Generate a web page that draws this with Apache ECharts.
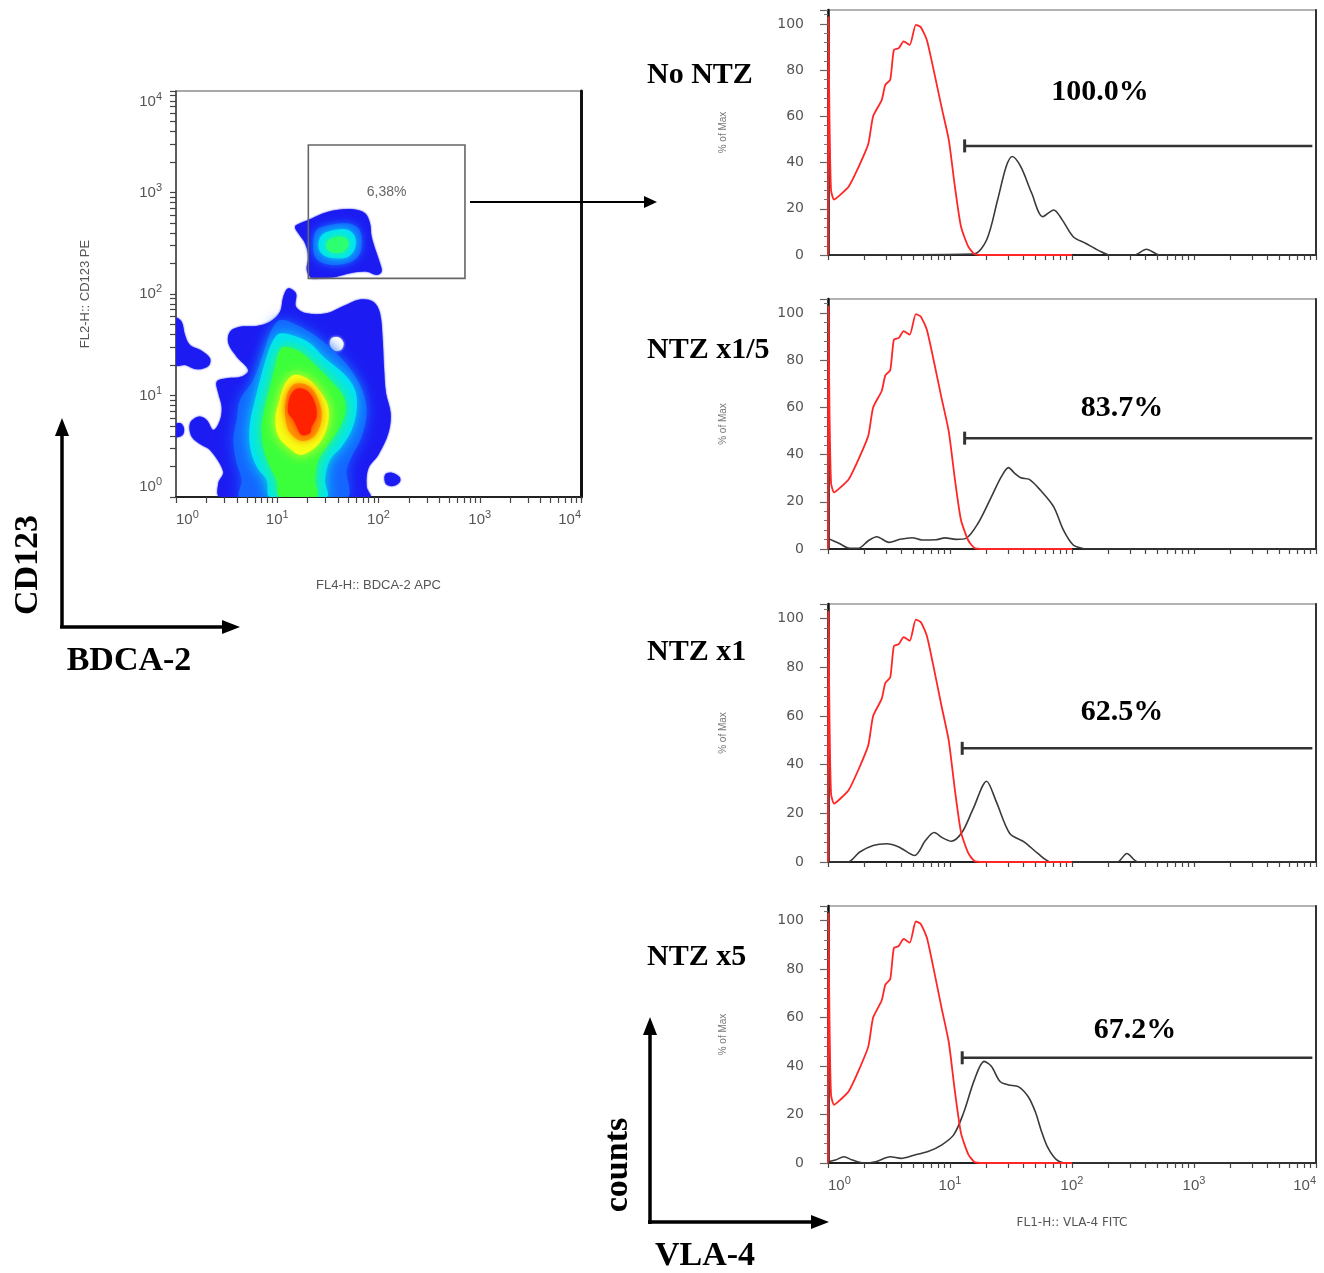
<!DOCTYPE html>
<html><head><meta charset="utf-8">
<script src="https://cdn.jsdelivr.net/npm/echarts@6/dist/echarts.min.js"></script>
<style>html,body{margin:0;padding:0;background:#fff}#c{width:1324px;height:1273px}</style>
</head><body><div id="c"></div>
<script>
// ---------------- DATA (x/y of the dot plot and x of histograms in log10 decades) ----------------
const decadeValues = [0, 1, 2, 3, 4];
const percentTicks = [0, 20, 40, 60, 80, 100];
const panelNames = ['No NTZ', 'NTZ x1/5', 'NTZ x1', 'NTZ x5'];
const gatePercents = ['100.0%', '83.7%', '62.5%', '67.2%'];
const gateStart = [1.12, 1.12, 1.10, 1.10];
const gateEnd = [3.97, 3.97, 3.97, 3.97];
const gateLevel = [47.2, 47.0, 46.7, 43.4];
const dotGateLabel = '6,38%';
const dotGate = [[1.307, 2.154], [2.854, 3.468]];

// isotype control (red), identical in every panel
const isotypeControl = [[0,0],[0.003,103],[0.012,60],[0.025,28],[0.05,24],[0.1,26],[0.17,29.6],[0.25,38],[0.33,48],[0.37,60],[0.44,67],[0.47,73.6],[0.51,75.8],[0.54,88.7],[0.58,89.5],[0.62,92.4],[0.67,90.9],[0.72,99.6],[0.76,98.6],[0.81,93],[0.86,81.5],[0.93,64.2],[0.99,49.8],[1.04,29.6],[1.09,12.3],[1.15,3.6],[1.20,0.4],[1.25,0],[2.0,0]];
// VLA-4 staining (dark grey)
const vla4NoNTZ = [[0,0],[1.19,0.4],[1.30,6.5],[1.39,23.8],[1.46,38.2],[1.51,42.6],[1.58,38.2],[1.67,26.7],[1.76,16.6],[1.85,19.5],[1.92,15.2],[2.01,7.9],[2.11,5.1],[2.22,1.9],[2.31,0],[2.51,0],[2.61,2.5],[2.72,0],[4,0]];
const vla4NTZ1of5 = [[0,4.5],[0.09,2.4],[0.18,0.3],[0.25,0.3],[0.33,3.5],[0.40,5.2],[0.50,2.8],[0.59,4.1],[0.69,4.8],[0.77,3.8],[0.88,3.9],[0.96,4.7],[1.05,4.1],[1.13,4.5],[1.23,10.9],[1.34,22.2],[1.42,30.6],[1.48,34.5],[1.53,32.1],[1.58,30.2],[1.65,29.5],[1.74,25],[1.85,17.9],[1.93,8],[2.01,1.7],[2.08,0.3],[2.12,0],[4,0]];
const vla4NTZ1 = [[0,0],[0.16,0],[0.26,4.1],[0.37,6.8],[0.48,7.5],[0.58,6.2],[0.71,2.7],[0.80,8.9],[0.87,12.1],[0.94,9.9],[1.01,8.5],[1.10,12.3],[1.19,21.9],[1.30,33.2],[1.38,24.7],[1.49,11.7],[1.61,8.2],[1.72,3.5],[1.83,0],[2.37,0],[2.45,3.5],[2.54,0],[4,0]];
const vla4NTZ5 = [[0,0.5],[0.06,1.2],[0.13,2.6],[0.2,1.2],[0.29,0],[0.39,0.5],[0.51,2.6],[0.60,1.9],[0.71,3.3],[0.82,4.7],[0.93,7.4],[1.03,11.6],[1.11,20.5],[1.20,34.3],[1.28,41.9],[1.34,39.8],[1.41,33.6],[1.48,32.2],[1.56,31.5],[1.64,27.4],[1.70,21],[1.75,13],[1.80,6.5],[1.87,1.5],[1.95,0],[4,0]];

// density contour outlines of the BDCA-2 / CD123 dot plot
const mainBlue = [[1.109,2.056],[1.185,2.007],[1.185,1.875],[1.291,1.810],[1.488,1.810],[1.653,1.882],[1.817,1.947],[1.949,1.924],[2.015,1.810],[2.041,1.547],[2.054,1.284],[2.074,1.021],[2.120,0.824],[2.097,0.627],[1.998,0.414],[1.900,0.282],[1.883,0.102],[1.916,0],[0.435,0],[0.418,0.135],[0.467,0.250],[0.336,0.463],[0.253,0.512],[0.155,0.594],[0.138,0.726],[0.221,0.791],[0.303,0.759],[0.369,0.660],[0.435,0.759],[0.451,0.890],[0.418,1.021],[0.402,1.136],[0.500,1.169],[0.649,1.186],[0.714,1.251],[0.599,1.383],[0.517,1.514],[0.533,1.629],[0.632,1.678],[0.797,1.685],[0.928,1.727],[1.027,1.826],[1.060,1.974]];
const mainAzure = [[1.027,1.744],[1.192,1.695],[1.389,1.580],[1.587,1.415],[1.751,1.218],[1.850,1.021],[1.883,0.824],[1.834,0.594],[1.751,0.430],[1.686,0.266],[1.686,0],[0.632,0],[0.649,0.167],[0.599,0.332],[0.566,0.562],[0.599,0.759],[0.632,0.956],[0.764,1.153],[0.863,1.415],[0.928,1.612]];
const mainCyan = [[1.027,1.612],[1.192,1.580],[1.323,1.514],[1.455,1.383],[1.653,1.218],[1.768,1.054],[1.784,0.857],[1.735,0.660],[1.636,0.496],[1.521,0.365],[1.472,0.167],[1.488,0],[0.928,0],[0.895,0.167],[0.797,0.299],[0.731,0.496],[0.731,0.726],[0.780,0.956],[0.830,1.153],[0.895,1.383],[0.961,1.547]];
const mainGreen = [[1.060,1.481],[1.225,1.432],[1.356,1.317],[1.521,1.153],[1.653,0.989],[1.669,0.824],[1.603,0.660],[1.488,0.496],[1.406,0.365],[1.373,0.167],[1.389,0],[1.027,0],[0.994,0.167],[0.928,0.299],[0.863,0.496],[0.846,0.693],[0.879,0.890],[0.928,1.087],[0.978,1.284],[1.011,1.415]];
const mainYellow = [[1.159,1.200],[1.291,1.170],[1.400,1.070],[1.500,0.900],[1.500,0.720],[1.430,0.550],[1.323,0.450],[1.225,0.415],[1.120,0.480],[1.015,0.590],[0.980,0.760],[1.015,0.930],[1.070,1.100]];
const mainOrange = [[1.192,1.120],[1.323,1.087],[1.406,0.956],[1.439,0.791],[1.389,0.627],[1.307,0.562],[1.208,0.562],[1.109,0.660],[1.077,0.824],[1.093,0.989],[1.126,1.071]];
const mainRed = [[1.208,1.071],[1.307,1.038],[1.373,0.923],[1.389,0.791],[1.340,0.693],[1.323,0.627],[1.241,0.611],[1.192,0.693],[1.159,0.759],[1.109,0.824],[1.109,0.923],[1.142,1.021]];
const leftUpperBlob = [[0,1.760],[0.056,1.727],[0.089,1.596],[0.138,1.498],[0.253,1.442],[0.336,1.366],[0.320,1.291],[0.204,1.258],[0.089,1.300],[0,1.300]];
const leftSmallBlob = [[0,0.719],[0.046,0.726],[0.079,0.677],[0.066,0.611],[0,0.594]];
const rightSmallBlob = [[2.064,0.217],[2.130,0.240],[2.206,0.200],[2.212,0.151],[2.146,0.108],[2.074,0.128]];
const blobHole = [[1.537,1.563],[1.603,1.573],[1.653,1.521],[1.636,1.455],[1.570,1.442],[1.521,1.498]];
const pdcBlue = [[1.175,2.663],[1.225,2.696],[1.340,2.745],[1.455,2.795],[1.587,2.828],[1.751,2.834],[1.867,2.795],[1.916,2.696],[1.932,2.565],[1.982,2.401],[2.015,2.302],[2.031,2.220],[1.982,2.187],[1.883,2.220],[1.719,2.204],[1.587,2.171],[1.422,2.154],[1.340,2.154],[1.291,2.236],[1.307,2.368],[1.274,2.499],[1.208,2.598]];
const pdcAzure = [[1.389,2.631],[1.521,2.680],[1.686,2.696],[1.801,2.647],[1.834,2.532],[1.817,2.401],[1.735,2.319],[1.587,2.286],[1.455,2.302],[1.373,2.368],[1.356,2.499]];
const pdcCyan = [[1.439,2.581],[1.570,2.631],[1.702,2.631],[1.768,2.565],[1.768,2.450],[1.702,2.368],[1.570,2.351],[1.455,2.384],[1.406,2.466]];
const pdcGreen = [[1.505,2.532],[1.603,2.565],[1.686,2.548],[1.702,2.483],[1.653,2.417],[1.554,2.407],[1.488,2.450]];

// ---------------- CHART ----------------
const SANS = '"Liberation Sans", Arial, sans-serif';
const WIDE = '"DejaVu Sans", sans-serif';
const SERIF = '"Liberation Serif", "Times New Roman", serif';
const GRAY = '#555';

const logTickPos = [];
for (let d = 0; d < 4; d++) for (let k = 1; k < 10; k++) logTickPos.push(d + Math.log10(k));
logTickPos.push(4);

const decadeRich = {
  a: {fontSize: 15, color: GRAY, fontFamily: SANS},
  b: {fontSize: 11, color: GRAY, fontFamily: SANS, padding: [0, 0, 10, 0]}
};
const decadeFmt = v => '{a|10}{b|' + Math.round(v) + '}';

const histTops = [10, 299, 604, 906];
const histHeights = [245, 250, 258, 257];
const histSeriesData = [vla4NoNTZ, vla4NTZ1of5, vla4NTZ1, vla4NTZ5];

const grids = [{left: 176, top: 91, width: 405, height: 406, show: true, borderColor: '#8c8c8c', borderWidth: 1.5}];
histTops.forEach((t, i) => grids.push({left: 828, top: t, width: 488, height: histHeights[i], show: true, borderColor: '#9a9a9a', borderWidth: 1.5}));

const xAxes = [{
  gridIndex: 0, type: 'value', min: 0, max: 4, position: 'bottom',
  axisLine: {lineStyle: {color: '#222', width: 2}},
  axisTick: {customValues: logTickPos, length: 6, lineStyle: {color: '#444', width: 1.2}},
  axisLabel: {customValues: decadeValues, formatter: decadeFmt, rich: decadeRich, margin: 12, alignMinLabel: 'left', alignMaxLabel: 'right'},
  splitLine: {show: false},
  name: 'FL4-H:: BDCA-2 APC', nameLocation: 'middle', nameGap: 82,
  nameTextStyle: {color: GRAY, fontSize: 13, fontFamily: SANS}
}];
const yAxes = [{
  gridIndex: 0, type: 'value', min: 0, max: 4, position: 'left',
  axisLine: {lineStyle: {color: '#444', width: 1.5}},
  axisTick: {customValues: logTickPos, length: 6, lineStyle: {color: '#444', width: 1.2}},
  axisLabel: {customValues: decadeValues, formatter: decadeFmt, rich: decadeRich, margin: 14, verticalAlignMinLabel: 'bottom', verticalAlignMaxLabel: 'top'},
  splitLine: {show: false},
  name: 'FL2-H:: CD123 PE', nameLocation: 'middle', nameGap: 84, nameRotate: 90,
  nameTextStyle: {color: GRAY, fontSize: 13, fontFamily: SANS}
}, {
  gridIndex: 0, type: 'value', min: 0, max: 4, position: 'right',
  axisLine: {show: true, lineStyle: {color: '#111', width: 3}},
  axisTick: {show: false}, axisLabel: {show: false}, splitLine: {show: false}
}];

histTops.forEach((t, i) => {
  const last = i === histTops.length - 1;
  xAxes.push({
    gridIndex: i + 1, type: 'value', min: 0, max: 4, position: 'bottom',
    axisLine: {lineStyle: {color: '#222', width: 2}},
    axisTick: {customValues: logTickPos, length: 5, lineStyle: {color: '#444', width: 1.2}},
    axisLabel: last ? {customValues: decadeValues, formatter: decadeFmt, rich: decadeRich, margin: 12, alignMinLabel: 'left', alignMaxLabel: 'right'} : {show: false},
    splitLine: {show: false},
    name: last ? 'FL1-H:: VLA-4 FITC' : '', nameLocation: 'middle', nameGap: 54,
    nameTextStyle: {color: GRAY, fontSize: 12, fontFamily: WIDE}
  });
  yAxes.push({
    gridIndex: i + 1, type: 'value', min: 0, max: 106, interval: 20, position: 'left',
    axisLine: {lineStyle: {color: '#111', width: 2.5}},
    axisTick: {length: 8, lineStyle: {color: '#666', width: 1.2}},
    minorTick: {show: true, splitNumber: 5, length: 4, lineStyle: {color: '#777'}},
    axisLabel: {customValues: percentTicks, margin: 24, color: GRAY, fontSize: 14, fontFamily: WIDE},
    splitLine: {show: false},
    name: '% of Max', nameLocation: 'middle', nameGap: 100, nameRotate: 90,
    nameTextStyle: {color: '#777', fontSize: 10, fontFamily: SANS}
  });
  yAxes.push({
    gridIndex: i + 1, type: 'value', min: 0, max: 106, position: 'right',
    axisLine: {show: true, lineStyle: {color: '#333', width: 2}},
    axisTick: {show: false}, axisLabel: {show: false}, splitLine: {show: false}
  });
});

function polygonSeries(poly, color, blur) {
  return {
    type: 'custom', xAxisIndex: 0, yAxisIndex: 0, clip: true, silent: true,
    data: poly,
    renderItem: function (params, api) {
      if (params.dataIndex !== 0) return null;
      const pts = poly.map(p => api.coord(p));
      return {type: 'polygon', shape: {points: pts, smooth: 0.35},
        style: {fill: color, shadowBlur: blur, shadowColor: color}};
    }
  };
}

const series = [
  polygonSeries(mainBlue, '#1c1cf2', 2),
  polygonSeries(leftUpperBlob, '#1c1cf2', 2),
  polygonSeries(leftSmallBlob, '#1c1cf2', 2),
  polygonSeries(rightSmallBlob, '#1c1cf2', 2),
  polygonSeries(blobHole, '#ffffff', 3),
  polygonSeries(mainAzure, '#1466ff', 14),
  polygonSeries(mainCyan, '#00e4f4', 14),
  polygonSeries(mainGreen, '#3cff3c', 14),
  polygonSeries(mainYellow, '#f6ff14', 12),
  polygonSeries(mainOrange, '#ff9a00', 10),
  polygonSeries(mainRed, '#ff2200', 8),
  polygonSeries(pdcBlue, '#1c1cf2', 2),
  polygonSeries(pdcAzure, '#1466ff', 10),
  polygonSeries(pdcCyan, '#00e4f4', 10),
  polygonSeries(pdcGreen, '#2cff70', 8),
  {
    type: 'custom', xAxisIndex: 0, yAxisIndex: 0, silent: true, data: dotGate,
    renderItem: function (params, api) {
      if (params.dataIndex !== 0) return null;
      const a = api.coord(dotGate[0]), b = api.coord(dotGate[1]);
      const x = Math.min(a[0], b[0]), y = Math.min(a[1], b[1]);
      const w = Math.abs(b[0] - a[0]), h = Math.abs(b[1] - a[1]);
      return {type: 'group', children: [
        {type: 'rect', shape: {x, y, width: w, height: h}, style: {fill: 'none', stroke: '#666', lineWidth: 1.6}},
        {type: 'text', style: {text: dotGateLabel, x: x + w / 2, y: y + h * 0.35, fill: '#666',
          font: '14px ' + SANS, align: 'center', verticalAlign: 'middle', textAlign: 'center', textVerticalAlign: 'middle'}}
      ]};
    }
  }
];

histSeriesData.forEach((d, i) => {
  series.push({type: 'line', xAxisIndex: i + 1, yAxisIndex: 2 + 2 * i, data: d, showSymbol: false, smooth: 0.3,
    lineStyle: {color: '#3a3a3a', width: 1.6}, silent: true, z: 3});
  series.push({type: 'line', xAxisIndex: i + 1, yAxisIndex: 2 + 2 * i, data: isotypeControl, showSymbol: false, smooth: 0.2,
    lineStyle: {color: '#ff2626', width: 1.8}, silent: true, z: 4});
  series.push({type: 'line', xAxisIndex: i + 1, yAxisIndex: 2 + 2 * i, silent: true, z: 5,
    data: [{value: [gateStart[i], gateLevel[i]], symbol: 'rect', symbolSize: [3, 13]},
           {value: [gateEnd[i], gateLevel[i]], symbol: 'none'}],
    showSymbol: true, showAllSymbol: true, itemStyle: {color: '#333'},
    lineStyle: {color: '#333', width: 2.5}});
});

// ---------------- annotations (text + arrows) ----------------
const titleY = [75, 350, 652, 957];
const pctPos = [[1100, 92], [1122, 408], [1122, 712], [1135, 1030]];
function txt(text, x, y, font, align, rot) {
  return {type: 'text', x: x, y: y, rotation: rot || 0, silent: true, z: 50,
    style: {text: text, x: 0, y: 0, fill: '#000', font: font,
      align: align, verticalAlign: 'middle', textAlign: align, textVerticalAlign: 'middle'}};
}
function arrowHead(points) {
  return {type: 'polygon', silent: true, z: 50, shape: {points: points}, style: {fill: '#000'}};
}
function seg(x1, y1, x2, y2, w) {
  return {type: 'line', silent: true, z: 50, shape: {x1, y1, x2, y2}, style: {stroke: '#000', lineWidth: w}};
}
const graphics = [];
panelNames.forEach((n, i) => graphics.push(txt(n, 647, titleY[i], 'bold 30px ' + SERIF, 'left')));
gatePercents.forEach((p, i) => graphics.push(txt(p, pctPos[i][0], pctPos[i][1], 'bold 30px ' + SERIF, 'center')));
graphics.push(txt('CD123', 28, 565, 'bold 34px ' + SERIF, 'center', Math.PI / 2));
graphics.push(txt('BDCA-2', 129, 661, 'bold 34px ' + SERIF, 'center'));
graphics.push(txt('counts', 618, 1165, 'bold 34px ' + SERIF, 'center', Math.PI / 2));
graphics.push(txt('VLA-4', 705, 1256, 'bold 34px ' + SERIF, 'center'));
// CD123 / BDCA-2 arrows
graphics.push(seg(62, 628, 62, 432, 3.5));
graphics.push(arrowHead([[62, 418], [55, 436], [69, 436]]));
graphics.push(seg(60, 627, 226, 627, 3.5));
graphics.push(arrowHead([[240, 627], [222, 620], [222, 634]]));
// counts / VLA-4 arrows
graphics.push(seg(650, 1224, 650, 1032, 3.5));
graphics.push(arrowHead([[650, 1017], [643, 1035], [657, 1035]]));
graphics.push(seg(648, 1222, 814, 1222, 3.5));
graphics.push(arrowHead([[829, 1222], [811, 1215], [811, 1229]]));
// gate -> histogram arrow
graphics.push(seg(470, 202, 646, 202, 2));
graphics.push(arrowHead([[657, 202], [644, 196], [644, 208]]));

const chart = echarts.init(document.getElementById('c'));
chart.setOption({
  backgroundColor: '#fff',
  animation: false,
  grid: grids,
  xAxis: xAxes,
  yAxis: yAxes,
  series: series,
  graphic: graphics
});
</script></body></html>
